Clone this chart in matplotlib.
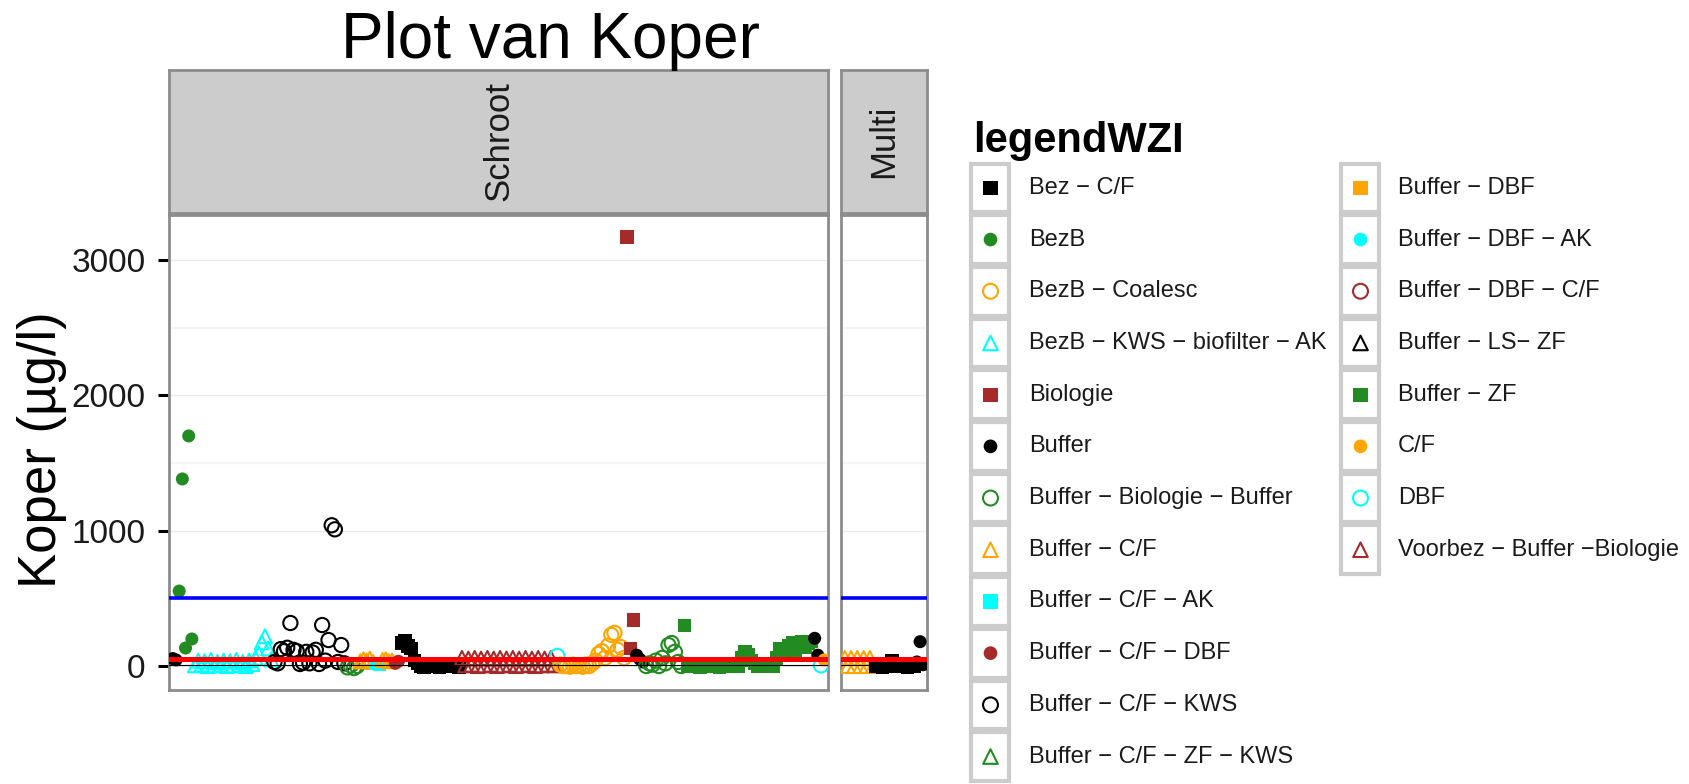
import matplotlib
matplotlib.use('Agg')
import matplotlib.pyplot as plt
from matplotlib.patches import Rectangle

plt.rcParams['font.family'] = ['Liberation Sans', 'DejaVu Sans']

# legend groups, in legend order
groups = ['Bez − C/F', 'BezB', 'BezB − Coalesc', 'BezB − KWS − biofilter − AK',
          'Biologie', 'Buffer', 'Buffer − Biologie − Buffer', 'Buffer − C/F',
          'Buffer − C/F − AK', 'Buffer − C/F − DBF', 'Buffer − C/F − KWS',
          'Buffer − C/F − ZF − KWS', 'Buffer − DBF', 'Buffer − DBF − AK',
          'Buffer − DBF − C/F', 'Buffer − LS− ZF', 'Buffer − ZF', 'C/F', 'DBF',
          'Voorbez − Buffer −Biologie']
palette = ['black', '#228B22', '#FFA500', '#00FFFF', '#A52A2A']
shapes = ['square', 'dot', 'ring', 'triangle']

# measurements in sample order (Koper, ug/l), per run of samples
schroot_runs = [
    ('Buffer', [55, 45]),
    ('BezB', [554, 1382, 133, 1700, 200]),
    ('BezB − KWS − biofilter − AK', [5, 40, 10, 35, 0, 45, 5, 30, 10, 40, 0, 35, 5,
                                     45, 10, 30, 0, 40, 15, 60, 95, 175, 220, 130, 50]),
    ('Buffer − C/F − KWS', [30, 20, 125, 110, 135, 318, 120, 110, 15, 25, 105, 20,
                            100, 120, 15, 303, 40, 192, 1040, 1010, 30, 155, 20]),
    ('Buffer − Biologie − Buffer', [-10, 5, -15, 0]),
    ('Buffer − C/F', [35, 50, 40, 55, 30]),
    ('Buffer − C/F − AK', [20, 15]),
    ('Buffer − C/F', [45, 50, 35, 40]),
    ('Buffer − C/F − DBF', [20, 35]),
    ('Bez − C/F', [170, 190, 150, 130, 40, 20, 0, -10, 10, -5, 0, 15, -10, 5, 0,
                   -5, 10, 0, -10]),
    ('Voorbez − Buffer −Biologie', [60, 5, 55, 10, 60, 0, 55, 5, 60, 10, 55, 0, 60, 5,
                                    55, 10, 60, 0, 55, 5, 60, 10, 55, 0, 60, 5, 55,
                                    10, 60, 5]),
    ('DBF', [75]),
    ('BezB − Coalesc', [10, 0, 5, -5, 10, 0, 5, -5, 10, 0, 20, 40, 90, 110, 60, 150,
                        230, 245, 120, 140, 60]),
    ('Biologie', [3170, 130, 340]),
    ('Buffer', [80, 50, 30]),
    ('Buffer − Biologie − Buffer', [0, 20, 10, 40, 0, 60, 20, 155, 170, 105, 30, 0]),
    ('Buffer − ZF', [300, 0, -5, 5, 0, -10, 0, 5, -5, 0, 0, -10, 5, 0, -5, 0, 10, 0,
                     60, 105, 80, 40, 20, 0, 5, 0, -5, 10, 0, 60, 130, 90, 120, 150,
                     170, 110, 150, 180, 140, 170, 180]),
    ('Buffer', [205, 80]),
    ('DBF', [5]),
    ('C/F', [45]),
]
multi_runs = [
    ('Buffer − C/F', [60, 0, 60, 0, 60, 0, 60, 0, 60, 0]),
    ('Bez − C/F', [0, 10, -10, 20, 5, 40, 0, -5, 10, 0, -10, 5, 0]),
    ('Buffer', [30, 180, 10]),
]
facets = ['Schroot', 'Multi']

# reference lines
norm_blue = 500
norm_red = 50
norm_black = 10

W, H = 1690, 784
fig = plt.figure(figsize=(W / 100, H / 100), dpi=100)


def frac(x0, y0, x1, y1):
    return [x0 / W, 1 - y1 / H, (x1 - x0) / W, (y1 - y0) / H]


def style(name):
    i = groups.index(name)
    color = palette[i % 5]
    kind = shapes[i % 4]
    if kind == 'square':
        return dict(marker='s', facecolors=color, edgecolors='none')
    if kind == 'dot':
        return dict(marker='o', facecolors=color, edgecolors='none')
    if kind == 'ring':
        return dict(marker='o', facecolors='none', edgecolors=color, linewidths=1.5)
    return dict(marker='^', facecolors='none', edgecolors=color, linewidths=1.5)


def size(name, scale=1.0):
    kind = shapes[groups.index(name) % 4]
    return {'square': 95, 'dot': 88, 'ring': 105, 'triangle': 100}[kind] * scale


def draw_panel(ax, runs):
    x0 = 0
    for name, vals in runs:
        xs = list(range(x0, x0 + len(vals)))
        ax.scatter(xs, vals, s=size(name), zorder=3, **style(name))
        x0 += len(vals)
    ax.axhline(norm_blue, color='#0000FF', lw=2.6, zorder=4)
    ax.axhline(norm_red, color='#FF0000', lw=3.6, zorder=4)
    ax.axhline(norm_black, color='black', lw=0.8, zorder=4)
    ax.set_xlim(-1.2, x0 - 1 + 1.2)
    ax.set_ylim(-177, 3332)
    ax.set_xticks([])
    ax.set_yticks([0, 1000, 2000, 3000])
    ax.set_yticks([500, 1500, 2500], minor=True)
    ax.grid(which='major', axis='y', color='#EBEBEB', lw=1.0, zorder=0)
    ax.grid(which='minor', axis='y', color='#F4F4F4', lw=1.6, zorder=0)
    ax.set_axisbelow(True)
    for sp in ax.spines.values():
        sp.set_color('#8C8C8C')
        sp.set_linewidth(2)
    ax.tick_params(axis='y', which='minor', length=0)


ax1 = fig.add_axes(frac(169, 215, 828, 690))
ax2 = fig.add_axes(frac(841, 215, 927, 690))
draw_panel(ax1, schroot_runs)
draw_panel(ax2, multi_runs)
ax1.tick_params(axis='y', which='major', length=8, width=2.2, color='black',
                labelsize=24, pad=9, labelcolor='#1a1a1a')
ax2.tick_params(axis='y', which='major', length=0, labelleft=False)

# facet strips
for (x0, x1), label in zip([(169, 828), (841, 927)], facets):
    st = fig.add_axes(frac(x0, 70, x1, 213))
    st.set_facecolor('#CCCCCC')
    st.set_xticks([])
    st.set_yticks([])
    for sp in st.spines.values():
        sp.set_color('#8C8C8C')
        sp.set_linewidth(2)
    st.text(0.5, 0.5, label, rotation=90, ha='center', va='center',
            fontsize=25, color='#1a1a1a', transform=st.transAxes)

fig.text(550 / W, 1 - 58 / H, 'Plot van Koper', ha='center', va='baseline',
         fontsize=46, color='black')
fig.text(42 / W, 1 - 450 / H, 'Koper (µg/l)', rotation=90, ha='center',
         va='center', fontsize=38, color='black')

# legend, drawn in pixel space
lg = fig.add_axes([0, 0, 1, 1])
lg.set_xlim(0, W)
lg.set_ylim(H, 0)
lg.axis('off')
lg.patch.set_alpha(0)
lg.text(973, 152, 'legendWZI', fontsize=30, fontweight='bold', va='baseline',
        color='black')
row_h = 51.7
top = 162
per_col = 12
for i, name in enumerate(groups):
    col, row = divmod(i, per_col)
    kx = [970, 1340][col]
    tx = [1029, 1398][col]
    y0 = top + row * row_h
    lg.add_patch(Rectangle((kx + 1.5, y0 + 1.5), 38, row_h - 3, facecolor='white',
                           edgecolor='#CCCCCC', lw=3.0, clip_on=False))
    lg.scatter([kx + 20.5], [y0 + row_h / 2], s=size(name, 1.1), clip_on=False,
               zorder=3, **style(name))
    lg.text(tx, y0 + row_h / 2, name, fontsize=17, va='center', color='#1a1a1a')

fig.savefig('out.png', dpi=100)
